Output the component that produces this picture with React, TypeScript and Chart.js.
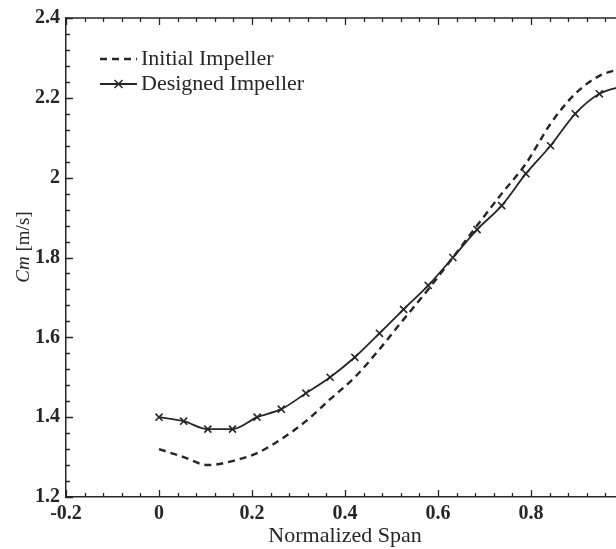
import React, { useEffect, useRef } from "react";
import { Chart, registerables } from "chart.js";

Chart.register(...registerables);

const spanValues = [0, 0.053, 0.105, 0.158, 0.211, 0.263, 0.316, 0.368, 0.421, 0.474, 0.526, 0.579, 0.632, 0.684, 0.737, 0.789, 0.842, 0.895, 0.947, 1.0];
const initialCm = [1.32, 1.3, 1.28, 1.29, 1.31, 1.345, 1.39, 1.445, 1.5, 1.57, 1.645, 1.72, 1.8, 1.88, 1.96, 2.035, 2.135, 2.21, 2.255, 2.275];
const designedCm = [1.4, 1.39, 1.37, 1.37, 1.4, 1.42, 1.46, 1.5, 1.55, 1.61, 1.67, 1.73, 1.8, 1.87, 1.93, 2.01, 2.08, 2.16, 2.21, 2.23];
const seriesLabels = ["Initial Impeller", "Designed Impeller"];
const xAxisTitle = "Normalized Span";
const yAxisTitleItalic = "Cm";
const yAxisTitleRest = " [m/s]";

const SERIF = "'Liberation Serif', 'Times New Roman', serif";
const INK = "#262626";

const decorPlugin = {
  id: "decor",
  afterDraw(chart: any) {
    const ctx = chart.ctx as CanvasRenderingContext2D;
    const xs = chart.scales.x;
    const ys = chart.scales.y;
    const area = chart.chartArea;
    ctx.save();
    ctx.strokeStyle = INK;
    ctx.lineWidth = 1.5;
    // top and right frame
    ctx.beginPath();
    ctx.moveTo(area.left, area.top);
    ctx.lineTo(area.right, area.top);
    ctx.lineTo(area.right, area.bottom);
    ctx.stroke();
    // inward ticks
    ctx.lineWidth = 1.3;
    for (let k = 0; k <= 30; k++) {
      const v = xs.min + k * 0.04;
      if (v > xs.max + 1e-9) break;
      const major = k % 5 === 0;
      const len = major ? 7 : 4;
      const px = Math.round(xs.getPixelForValue(v)) + 0.5;
      ctx.beginPath();
      ctx.moveTo(px, area.bottom);
      ctx.lineTo(px, area.bottom - len);
      ctx.moveTo(px, area.top);
      ctx.lineTo(px, area.top + len);
      ctx.stroke();
    }
    for (let k = 0; k <= 30; k++) {
      const v = ys.min + k * 0.04;
      if (v > ys.max + 1e-9) break;
      const major = k % 5 === 0;
      const len = major ? 7 : 4;
      const py = Math.round(ys.getPixelForValue(v)) + 0.5;
      ctx.beginPath();
      ctx.moveTo(area.left, py);
      ctx.lineTo(area.left + len, py);
      ctx.moveTo(area.right, py);
      ctx.lineTo(area.right - len, py);
      ctx.stroke();
    }

    // legend inside plot
    chart.data.datasets.forEach((ds: any, i: number) => {
      const y = 59 + i * 25;
      ctx.save();
      ctx.strokeStyle = INK;
      ctx.lineWidth = ds.borderWidth;
      ctx.setLineDash(ds.borderDash || []);
      ctx.beginPath();
      ctx.moveTo(100, y);
      ctx.lineTo(137, y);
      ctx.stroke();
      ctx.setLineDash([]);
      if (ds.pointStyle === "crossRot") {
        const r = 4;
        const cx = 118.5;
        ctx.lineWidth = 1.5;
        ctx.beginPath();
        ctx.moveTo(cx - r, y - r);
        ctx.lineTo(cx + r, y + r);
        ctx.moveTo(cx + r, y - r);
        ctx.lineTo(cx - r, y + r);
        ctx.stroke();
      }
      ctx.fillStyle = INK;
      ctx.font = `22px ${SERIF}`;
      ctx.textBaseline = "middle";
      ctx.textAlign = "left";
      ctx.fillText(ds.label, 141, y);
      ctx.restore();
    });

    // y axis title with italic "Cm"
    ctx.save();
    ctx.translate(24, 247);
    ctx.rotate(-Math.PI / 2);
    ctx.fillStyle = INK;
    ctx.textBaseline = "middle";
    ctx.textAlign = "left";
    const fItal = `italic 19px ${SERIF}`;
    const fNorm = `19px ${SERIF}`;
    ctx.font = fItal;
    const w1 = ctx.measureText(yAxisTitleItalic).width;
    ctx.font = fNorm;
    const w2 = ctx.measureText(yAxisTitleRest).width;
    const start = -(w1 + w2) / 2;
    ctx.font = fItal;
    ctx.fillText(yAxisTitleItalic, start, 0);
    ctx.font = fNorm;
    ctx.fillText(yAxisTitleRest, start + w1, 0);
    ctx.restore();

    ctx.restore();
  },
};

const fmt = (v: any) => String(Number(Number(v).toFixed(2)));

export default function App() {
  const ref = useRef<HTMLCanvasElement | null>(null);

  useEffect(() => {
    if (!ref.current) return;
    const chart = new Chart(ref.current, {
      type: "line",
      data: {
        datasets: [
          {
            label: seriesLabels[0],
            data: spanValues.map((x, i) => ({ x, y: initialCm[i] })),
            borderColor: INK,
            borderWidth: 2.4,
            borderDash: [7, 5],
            pointRadius: 0,
            pointStyle: false as any,
            cubicInterpolationMode: "monotone",
            fill: false,
          },
          {
            label: seriesLabels[1],
            data: spanValues.map((x, i) => ({ x, y: designedCm[i] })),
            borderColor: INK,
            borderWidth: 1.8,
            pointStyle: "crossRot",
            pointRadius: 5,
            pointBorderWidth: 1.6,
            pointBorderColor: INK,
            pointBackgroundColor: INK,
            cubicInterpolationMode: "monotone",
            fill: false,
          },
        ],
      },
      options: {
        animation: false,
        responsive: false,
        maintainAspectRatio: false,
        layout: { padding: { left: 0, top: 18, right: 16, bottom: 0 } },
        plugins: {
          legend: { display: false },
          tooltip: { enabled: false },
        },
        scales: {
          x: {
            type: "linear",
            min: -0.2,
            max: 1.0,
            afterFit: (s: any) => {
              s.height = 52;
            },
            ticks: {
              stepSize: 0.2,
              padding: 5,
              color: INK,
              font: { family: SERIF, size: 20, weight: "bold" },
              callback: fmt,
              maxRotation: 0,
              autoSkip: false,
            },
            grid: { display: true, drawOnChartArea: false, drawTicks: false },
            border: { display: true, color: INK, width: 1.5 },
            title: {
              display: true,
              text: xAxisTitle,
              color: INK,
              font: { family: SERIF, size: 22 },
              padding: { top: 0, bottom: 0 },
            },
          },
          y: {
            type: "linear",
            min: 1.2,
            max: 2.4,
            afterFit: (s: any) => {
              s.width = 66;
            },
            ticks: {
              stepSize: 0.2,
              padding: 6,
              color: INK,
              font: { family: SERIF, size: 20, weight: "bold" },
              callback: fmt,
              autoSkip: false,
            },
            grid: { display: true, drawOnChartArea: false, drawTicks: false },
            border: { display: true, color: INK, width: 1.5 },
          },
        },
      } as any,
      plugins: [decorPlugin],
    });
    return () => chart.destroy();
  }, []);

  return (
    <div
      style={{
        position: "fixed",
        left: 0,
        top: 0,
        width: 616,
        height: 549,
        overflow: "hidden",
        background: "#fff",
      }}
    >
      <canvas ref={ref} width={640} height={549} style={{ display: "block", width: 640, height: 549 }} />
    </div>
  );
}
